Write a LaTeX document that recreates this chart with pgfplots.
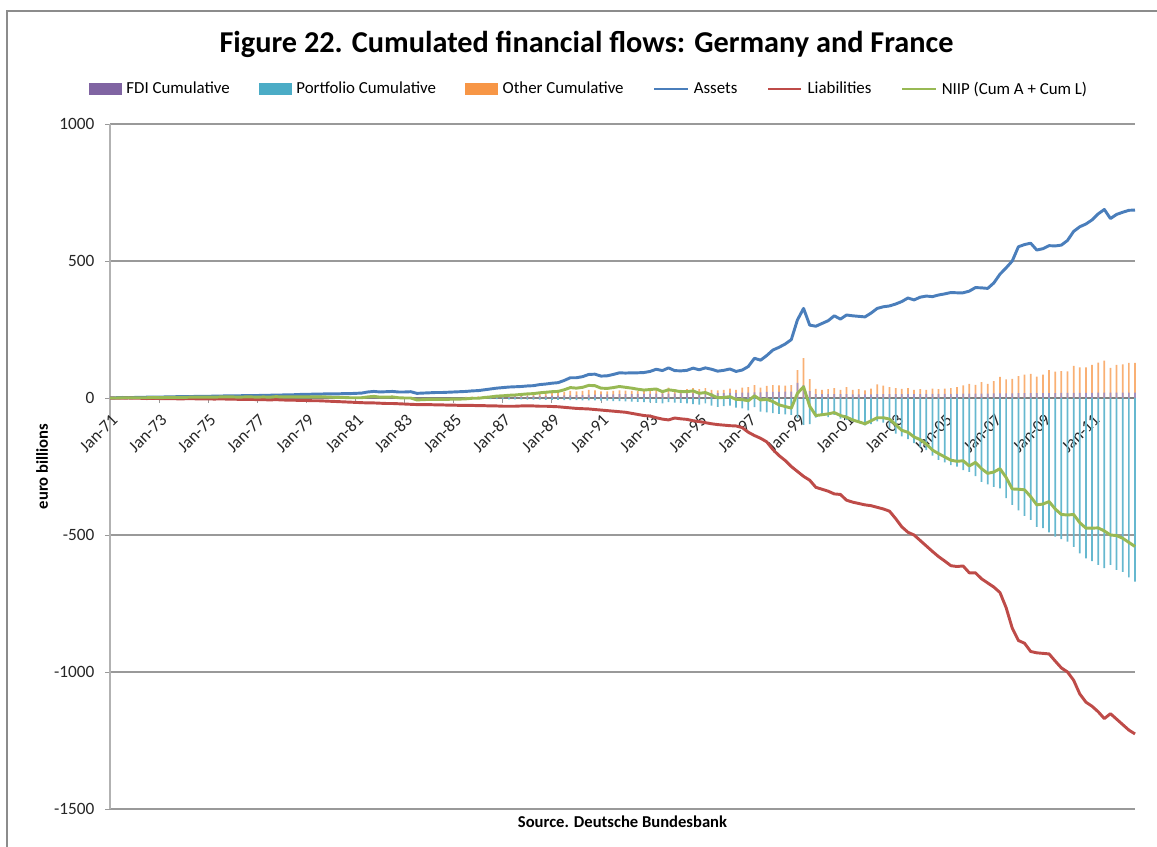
\documentclass[border=0pt]{standalone}
\usepackage{pgfplots}
\pgfplotsset{compat=1.18}
\usepackage{pgfplotstable}
\usepackage{fontspec}
\setmainfont{Carlito}

\definecolor{cAss}{HTML}{4A7EBB}
\definecolor{cLia}{HTML}{BE4B48}
\definecolor{cNiip}{HTML}{98B954}
\definecolor{cFdi}{HTML}{8064A2}
\definecolor{cPort}{HTML}{4BACC6}
\definecolor{cOth}{HTML}{F79646}

% quarterly cumulated positions, euro billions
\pgfplotstableread{
t A L N
1971.00 0 0 0
1971.25 1 -1 0
1971.50 2 -1 1
1971.75 1 0 1
1972.00 2 -1 1
1972.25 2 -1 1
1972.50 3 -2 1
1972.75 3 -1 2
1973.00 3 -2 1
1973.25 4 -2 2
1973.50 4 -2 2
1973.75 5 -3 2
1974.00 5 -3 2
1974.25 5 -2 3
1974.50 6 -3 3
1974.75 6 -3 3
1975.00 6 -3 3
1975.25 7 -4 3
1975.50 7 -3 4
1975.75 8 -4 4
1976.00 8 -4 4
1976.25 8 -5 3
1976.50 9 -5 4
1976.75 9 -5 4
1977.00 9 -6 3
1977.25 10 -6 4
1977.50 10 -7 3
1977.75 11 -6 5
1978.00 11 -7 4
1978.25 12 -8 4
1978.50 12 -8 4
1978.75 13 -9 4
1979.00 13 -9 4
1979.25 14 -10 4
1979.50 14 -10 4
1979.75 15 -11 4
1980.00 15 -12 3
1980.25 15 -13 2
1980.50 16 -14 2
1980.75 16 -15 1
1981.00 17 -16 1
1981.25 18 -17 1
1981.50 22 -18 4
1981.75 24 -18 6
1982.00 22 -19 3
1982.25 23 -20 3
1982.50 24 -20 4
1982.75 22 -21 1
1983.00 22 -22 0
1983.25 23 -23 0
1983.50 17 -24 -7
1983.75 18 -24 -6
1984.00 19 -24 -5
1984.25 20 -25 -5
1984.50 20 -25 -5
1984.75 21 -26 -5
1985.00 22 -26 -4
1985.25 23 -27 -4
1985.50 24 -27 -3
1985.75 26 -27 -1
1986.00 27 -28 -1
1986.25 30 -28 2
1986.50 33 -29 4
1986.75 36 -29 7
1987.00 38 -30 8
1987.25 40 -30 10
1987.50 41 -30 11
1987.75 42 -29 13
1988.00 44 -29 15
1988.25 45 -29 16
1988.50 49 -30 19
1988.75 51 -30 21
1989.00 54 -31 23
1989.25 56 -32 24
1989.50 64 -34 30
1989.75 74 -36 38
1990.00 74 -38 36
1990.25 78 -39 39
1990.50 86 -40 46
1990.75 87 -42 45
1991.00 80 -44 36
1991.25 81 -46 35
1991.50 86 -48 38
1991.75 92 -50 42
1992.00 91 -52 39
1992.25 92 -56 36
1992.50 92 -60 32
1992.75 93 -64 29
1993.00 97 -66 31
1993.25 105 -72 33
1993.50 100 -77 23
1993.75 110 -80 30
1994.00 100 -73 27
1994.25 99 -76 23
1994.50 101 -78 23
1994.75 109 -83 26
1995.00 103 -86 17
1995.25 110 -90 20
1995.50 105 -94 11
1995.75 98 -97 1
1996.00 101 -99 2
1996.25 106 -101 5
1996.50 97 -102 -5
1996.75 102 -108 -6
1997.00 115 -125 -10
1997.25 145 -137 8
1997.50 138 -147 -7
1997.75 155 -160 -5
1998.00 175 -188 -13
1998.25 185 -210 -25
1998.50 197 -228 -31
1998.75 213 -250 -37
1999.00 285 -268 17
1999.25 327 -286 41
1999.50 266 -300 -30
1999.75 262 -326 -64
2000.00 272 -333 -61
2000.25 282 -340 -58
2000.50 300 -350 -53
2000.75 288 -352 -64
2001.00 303 -373 -70
2001.25 300 -380 -80
2001.50 298 -385 -87
2001.75 296 -390 -94
2002.00 310 -393 -83
2002.25 327 -399 -72
2002.50 333 -405 -72
2002.75 336 -413 -77
2003.00 343 -440 -97
2003.25 352 -470 -118
2003.50 365 -490 -125
2003.75 358 -500 -142
2004.00 368 -520 -152
2004.25 372 -540 -168
2004.50 370 -560 -190
2004.75 376 -579 -203
2005.00 380 -595 -215
2005.25 385 -612 -227
2005.50 384 -615 -231
2005.75 384 -613 -229
2006.00 390 -638 -248
2006.25 403 -638 -235
2006.50 402 -660 -258
2006.75 400 -675 -275
2007.00 420 -690 -270
2007.25 452 -710 -258
2007.50 475 -765 -290
2007.75 500 -840 -332
2008.00 552 -885 -333
2008.25 560 -895 -335
2008.50 565 -925 -360
2008.75 540 -930 -390
2009.00 545 -932 -387
2009.25 556 -934 -378
2009.50 555 -960 -405
2009.75 558 -985 -425
2010.00 575 -1000 -427
2010.25 608 -1030 -425
2010.50 625 -1080 -455
2010.75 635 -1110 -475
2011.00 650 -1125 -475
2011.25 672 -1145 -474
2011.50 688 -1170 -485
2011.75 655 -1152 -500
2012.00 670 -1172 -502
2012.25 678 -1192 -512
2012.50 685 -1212 -527
2012.75 686 -1226 -542
}\lines

% cumulated flows by type: F = FDI, P = portfolio, O = other
\pgfplotstableread{
t F P O
1985.50 2 -2 2
1985.75 2 -2 3
1986.00 3 -3 3
1986.25 3 -3 4
1986.50 4 -4 4
1986.75 4 -4 6
1987.00 5 -4 6
1987.25 5 -5 7
1987.50 6 -5 7
1987.75 6 -5 8
1988.00 7 -6 8
1988.25 7 -6 9
1988.50 8 -6 9
1988.75 8 -7 10
1989.00 9 -7 10
1989.25 9 -7 11
1989.50 10 -8 12
1989.75 10 -8 16
1990.00 11 -8 13
1990.25 11 -9 15
1990.50 12 -9 18
1990.75 12 -9 16
1991.00 13 -10 11
1991.25 13 -10 11
1991.50 13 -11 13
1991.75 14 -11 14
1992.00 14 -12 13
1992.25 14 -13 12
1992.50 15 -14 10
1992.75 15 -15 11
1993.00 15 -16 15
1993.25 16 -18 18
1993.50 16 -20 14
1993.75 16 -15 22
1994.00 16 -17 16
1994.25 17 -18 13
1994.50 17 -20 15
1994.75 17 -22 19
1995.00 17 -24 15
1995.25 18 -20 18
1995.50 18 -28 12
1995.75 18 -32 10
1996.00 18 -30 12
1996.25 19 -28 15
1996.50 19 -35 11
1996.75 20 -38 18
1997.00 20 -45 20
1997.25 21 -33 26
1997.50 21 -50 17
1997.75 22 -52 22
1998.00 22 -55 25
1998.25 22 -58 24
1998.50 23 -60 22
1998.75 23 -62 24
1999.00 55 -73 47
1999.25 47 -98 99
1999.50 25 -95 44
1999.75 14 -72 19
2000.00 14 -65 16
2000.25 14 -70 18
2000.50 14 -62 22
2000.75 14 -75 16
2001.00 14 -80 26
2001.25 13 -85 17
2001.50 13 -90 19
2001.75 13 -100 15
2002.00 13 -95 21
2002.25 14 -85 36
2002.50 14 -90 31
2002.75 14 -110 26
2003.00 14 -130 22
2003.25 14 -140 19
2003.50 14 -150 22
2003.75 14 -165 16
2004.00 14 -180 18
2004.25 15 -190 15
2004.50 15 -210 19
2004.75 15 -226 17
2005.00 15 -235 19
2005.25 15 -245 21
2005.50 15 -250 25
2005.75 16 -263 30
2006.00 16 -270 36
2006.25 16 -285 32
2006.50 16 -306 42
2006.75 16 -315 36
2007.00 17 -324 45
2007.25 17 -330 60
2007.50 17 -365 51
2007.75 17 -390 53
2008.00 18 -410 62
2008.25 18 -430 67
2008.50 18 -445 70
2008.75 18 -470 60
2009.00 18 -475 67
2009.25 18 -490 84
2009.50 18 -506 78
2009.75 19 -515 79
2010.00 19 -524 78
2010.25 19 -543 98
2010.50 19 -567 93
2010.75 19 -585 93
2011.00 19 -595 102
2011.25 20 -609 109
2011.50 20 -621 116
2011.75 20 -609 90
2012.00 20 -627 101
2012.25 20 -635 103
2012.50 20 -655 108
2012.75 20 -670 108
}\bars

\begin{document}
\begin{tikzpicture}
\path[use as bounding box] (0,0) rectangle (867.75bp,-635.25bp);
\draw[black!45, line width=1.1bp] (5.25bp,-640bp) -- (5.25bp,-8.25bp) -- (870bp,-8.25bp);
\begin{axis}[
  at={(82.5bp,-606.75bp)}, anchor=south west,
  scale only axis, width=768.75bp, height=513.75bp,
  xmin=1971, xmax=2012.75, ymin=-1500, ymax=1000,
  clip=false,
  axis x line=middle, axis y line=left,
  hide obscured x ticks=false,
  axis line style={-},
  x axis line style={black!50, line width=0.9bp},
  y axis line style={black!30, line width=0.9bp},
  ymajorgrids, grid style={black!40, line width=0.9bp},
  tick align=outside, major tick length=3.75bp,
  tick style={black!40, line width=0.75bp},
  xtick={1971,1973,...,2011},
  xticklabels={Jan-71,Jan-73,Jan-75,Jan-77,Jan-79,Jan-81,Jan-83,Jan-85,Jan-87,Jan-89,Jan-91,Jan-93,Jan-95,Jan-97,Jan-99,Jan-01,Jan-03,Jan-05,Jan-07,Jan-09,Jan-11},
  ytick={-1500,-1000,-500,0,500,1000},
  yticklabels={-1500,-1000,-500,0,500,1000},
  ticklabel style={font=\fontsize{13}{15}\selectfont, text=black!85},
  xticklabel style={rotate=45, anchor=east, xshift=-1.5bp, yshift=-10bp},
  yticklabel style={anchor=east, xshift=-4.5bp},
  xlabel={\textbf{Source. Deutsche Bundesbank}},
  xlabel style={at={(axis description cs:0.5,-0.0277)}, anchor=base, font=\fontsize{12.5}{15}\selectfont},
  ylabel={\textbf{euro billions}},
  ylabel style={at={(axis description cs:-0.0663,0.5)}, anchor=center, rotate=0, font=\fontsize{12.5}{15}\selectfont},
  title={\textbf{Figure 22. Cumulated financial flows: Germany and France}},
  title style={at={(axis description cs:0.4649,1.0934)}, anchor=base, yshift=0pt, font=\fontsize{22.8}{27}\selectfont},
  legend columns=6,
  legend cell align=left,
  legend style={draw=none, fill=none, at={(0.4678,1.0511)}, anchor=center,
    font=\fontsize{12.7}{15}\selectfont,
    /tikz/every odd column/.append style={column sep=1.5bp},
    /tikz/every even column/.append style={column sep=20bp}},
]
\addlegendimage{legend image code/.code={\fill[cFdi] (0bp,-4bp) rectangle (24bp,4bp);}}
\addlegendentry{FDI Cumulative}
\addlegendimage{legend image code/.code={\fill[cPort] (0bp,-4bp) rectangle (24bp,4bp);}}
\addlegendentry{Portfolio Cumulative}
\addlegendimage{legend image code/.code={\fill[cOth] (0bp,-4bp) rectangle (24bp,4bp);}}
\addlegendentry{Other Cumulative}
\addlegendimage{legend image code/.code={\draw[cAss, line width=2.2bp] (0bp,0bp) -- (25bp,0bp);}}
\addlegendentry{Assets}
\addlegendimage{legend image code/.code={\draw[cLia, line width=2.2bp] (0bp,0bp) -- (25bp,0bp);}}
\addlegendentry{Liabilities}
\addlegendimage{legend image code/.code={\draw[cNiip, line width=2.2bp] (0bp,0bp) -- (25bp,0bp);}}
\addlegendentry{NIIP (Cum A + Cum L)}

% other is stacked on top of FDI
\addplot[ybar, bar width=1.3bp, bar shift=0pt, fill=cOth!75, draw=none, forget plot]
  table[x=t, y expr=\thisrow{F}+\thisrow{O}] {\bars};
\addplot[ybar, bar width=1.3bp, bar shift=0pt, fill=cFdi!70, draw=none, forget plot]
  table[x=t, y=F] {\bars};
\addplot[ybar, bar width=1.3bp, bar shift=0pt, fill=cPort!85, draw=none, forget plot]
  table[x=t, y=P] {\bars};

\addplot[cAss, line width=2.2bp, line join=round, no markers, forget plot] table[x=t, y=A] {\lines};
\addplot[cLia, line width=2.2bp, line join=round, no markers, forget plot] table[x=t, y=L] {\lines};
\addplot[cNiip, line width=2.2bp, line join=round, no markers, forget plot] table[x=t, y=N] {\lines};
\end{axis}
\end{tikzpicture}
\end{document}
